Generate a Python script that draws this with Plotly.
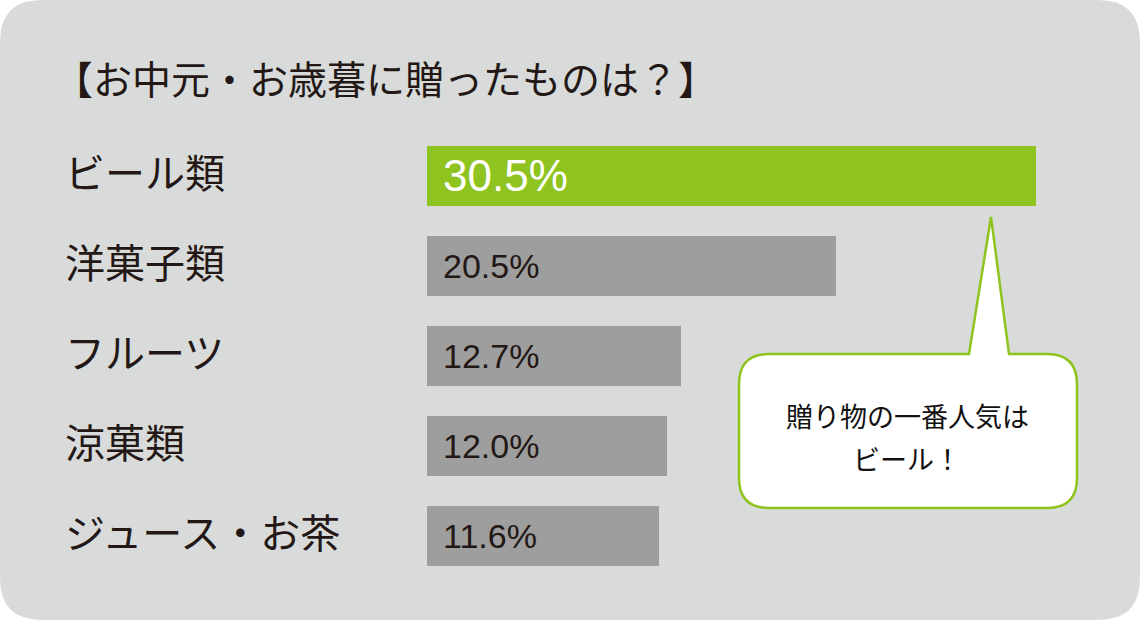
import plotly.graph_objects as go

# ---- data ----
categories = ["ビール類", "洋菓子類", "フルーツ", "涼菓類", "ジュース・お茶"]
values = [30.5, 20.5, 12.7, 12.0, 11.6]
value_labels = ["30.5%", "20.5%", "12.7%", "12.0%", "11.6%"]
title_text = "【お中元・お歳暮に贈ったものは？】"
callout_lines = ["贈り物の一番人気は", "ビール！"]

# ---- styles ----
W, H = 1140, 620
GREEN = "#8fc31f"
GRAY = "#9d9e9d"
BG = "#d9dbda"
TEXT = "#231815"
JP = "Noto Sans CJK JP"
NUM = "Liberation Sans, Arial, sans-serif"

bar_x0_px = 427
px_per_unit = 609 / 30.5
row0_px = 175.5
row_step = 90
bar_h_px = 60

idx = list(range(len(categories)))
colors = [GREEN] + [GRAY] * (len(categories) - 1)

fig = go.Figure(go.Bar(
    x=values, y=idx, orientation="h",
    marker=dict(color=colors, line=dict(width=0)),
    width=bar_h_px / row_step,
    hoverinfo="skip",
))

def P(x, y):
    return f"{x / W:.5f},{1 - y / H:.5f}"

def rrect(x0, y0, x1, y1, r, notch=None):
    s = f"M {P(x0 + r, y0)} "
    if notch:
        (bl, tipx, tipy, br) = notch
        s += f"L {P(bl, y0)} L {P(tipx, tipy)} L {P(br, y0)} "
    s += f"L {P(x1 - r, y0)} Q {P(x1, y0)} {P(x1, y0 + r)} "
    s += f"L {P(x1, y1 - r)} Q {P(x1, y1)} {P(x1 - r, y1)} "
    s += f"L {P(x0 + r, y1)} Q {P(x0, y1)} {P(x0, y1 - r)} "
    s += f"L {P(x0, y0 + r)} Q {P(x0, y0)} {P(x0 + r, y0)} Z"
    return s

shapes = [
    dict(type="path", xref="paper", yref="paper", layer="below",
         path=rrect(0, 0, W, H, 42), fillcolor=BG, line=dict(width=0)),
    dict(type="path", xref="paper", yref="paper", layer="above",
         path=rrect(739, 354, 1077, 508, 30, notch=(969, 991, 217, 1009)),
         fillcolor="white", line=dict(color=GREEN, width=2.5)),
]

annotations = [
    dict(text=title_text, xref="paper", yref="paper", x=52 / W, y=1 - 77 / H,
         xanchor="left", yanchor="middle", showarrow=False,
         font=dict(family=JP, size=39, color=TEXT)),
]
for i, (c, lab) in enumerate(zip(categories, value_labels)):
    annotations.append(dict(
        text=c, xref="paper", yref="y", x=63 / W, y=i, yshift=5,
        xanchor="left", yanchor="middle", showarrow=False,
        font=dict(family=JP, size=40, color=TEXT)))
    annotations.append(dict(
        text=lab, xref="x", yref="y", x=0, y=i, xshift=14,
        xanchor="left", yanchor="middle", showarrow=False,
        font=dict(family=NUM, size=44 if i == 0 else 34,
                  color="white" if i == 0 else TEXT)))
for j, line in enumerate(callout_lines):
    annotations.append(dict(
        text=line, xref="paper", yref="paper", x=907 / W,
        y=1 - (415 + 43 * j) / H, xanchor="center", yanchor="middle",
        showarrow=False, font=dict(family=JP, size=27, color="#111111")))

fig.update_layout(
    width=W, height=H, autosize=False,
    margin=dict(l=0, r=0, t=0, b=0, pad=0),
    paper_bgcolor="white", plot_bgcolor="rgba(0,0,0,0)",
    showlegend=False,
    xaxis=dict(visible=False, range=[-bar_x0_px / px_per_unit, (W - bar_x0_px) / px_per_unit]),
    yaxis=dict(visible=False, range=[(H - row0_px) / row_step, -row0_px / row_step]),
    shapes=shapes, annotations=annotations,
    bargap=0,
)

fig.write_html("out.html", config={"displayModeBar": False},
               post_script="document.body.style.margin='0';document.body.style.overflow='hidden';")
